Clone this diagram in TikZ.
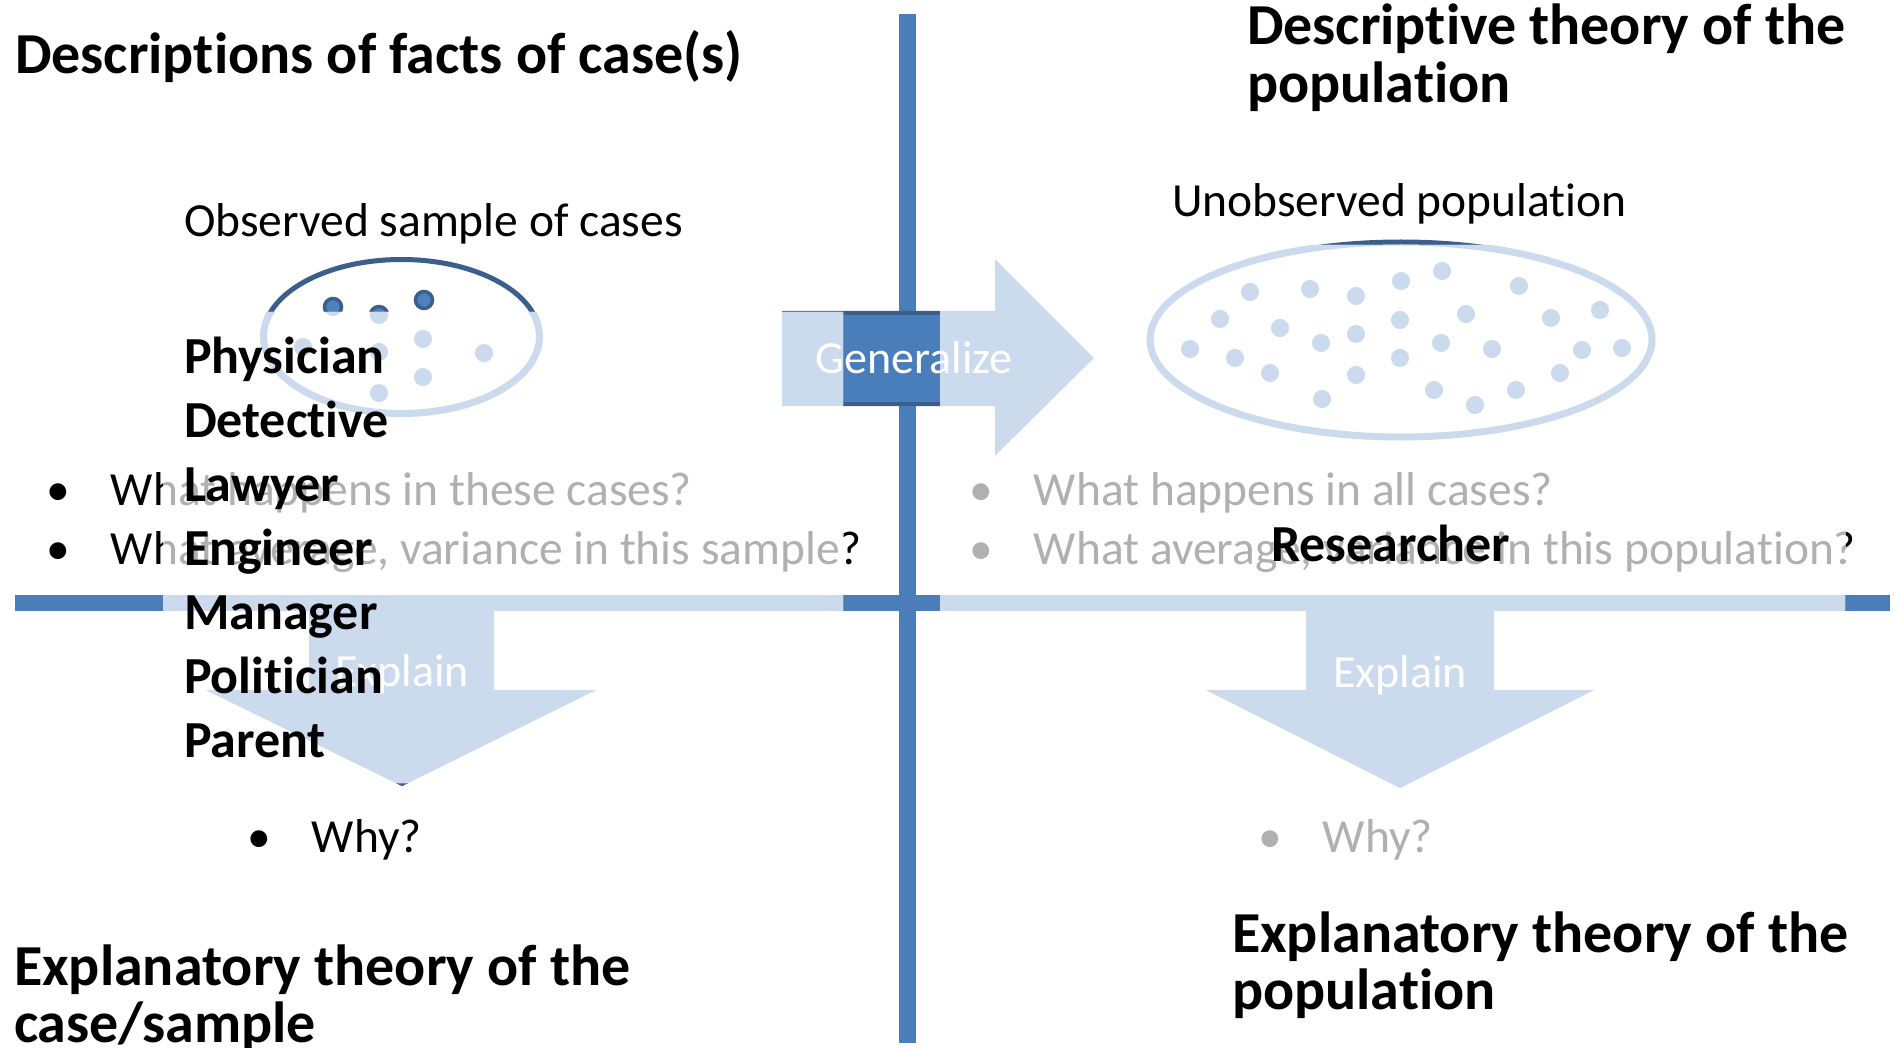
\documentclass[tikz,border=0pt]{standalone}
\usepackage{fontspec}
\setmainfont{Carlito}[Ligatures=NoCommon]
\usetikzlibrary{calc}

\definecolor{barblue}{HTML}{4A7EBB}
\definecolor{rimblue}{HTML}{3A5F8D}
\definecolor{dotblue}{HTML}{4F81BD}
\definecolor{paleblue}{HTML}{CCDAEE}
\definecolor{paletext}{HTML}{B0B0B0}

% Everything that belongs to the two-by-two scheme; drawn once in full colour
% and once more in pale tones inside the two washed-out panels.
\newcommand\schemelayer{%
  % axes
  \fill[fillc] (14.5,595) rectangle (1890,611);
  \fill[fillc] (899,14.5) rectangle (916,1043);
  % observed sample
  \node[bodytext] (samplelbl) at (184,237) {Observed sample of cases};
  \draw[rimc, line width=\rimw] (401.5,336.5) ellipse [x radius=138pt, y radius=77pt];
  \foreach \x/\y in {333/307,379/315,424/300,303/347,379/352,423/339,484/353,423/377,379/393}
    \draw[casedot] (\x,\y) circle [radius=8.5pt];
  % unobserved population
  \node[bodytext] (poplbl) at (1172,217) {Unobserved population};
  \draw[rimc, line width=\rimw] (1401,339.5) ellipse [x radius=251pt, y radius=97.5pt];
  \foreach \x/\y in {1250/292,1310/289,1356/296,1401/281,1442/271,1519/286,
                     1220/319,1280/328,1356/334,1400/320,1466/314,1551/318,1600/310,
                     1190/349,1235/358,1321/343,1441/343,1492/349,1582/350,1622/348,
                     1270/373,1356/375,1400/358,1560/373,
                     1322/399,1434/390,1475/405,1516/390}
    \draw[casedot] (\x,\y) circle [radius=8.5pt];
  % generalize arrow
  \draw[rimc, line width=4pt, fill=fillc, line join=miter]
    (784,313) -- (997,313) -- (997,264) -- (1091,358) -- (997,451) -- (997,404) -- (784,404) -- cycle;
  \node[whitetext] (gen) at (914,373) {Generalize};
  % explain arrows
  \draw[rimc, line width=2pt, fill=fillc]
    (310,603) -- (493,603) -- (493,691) -- (592,691) -- (402,785) -- (210,691) -- (310,691) -- cycle;
  \node[whitetext] (explL) at (402,686) {Explain};
  \draw[rimc, line width=2pt, fill=fillc]
    (1307,603) -- (1493,603) -- (1493,691) -- (1590,691) -- (1400,787) -- (1210,691) -- (1307,691) -- cycle;
  \node[whitetext] (explR) at (1400,687) {Explain};
  % questions
  \node[bodytext] (qsample) at (46,505) {\begin{tabular}[t]{@{}p{65pt}@{}l@{}}
      • & What happens in these cases?\\
      • & What average, variance in this sample?\end{tabular}};
  \node[bodytext] (qpop) at (969,505) {\begin{tabular}[t]{@{}p{65pt}@{}l@{}}
      • & What happens in all cases?\\
      • & What average, variance in this population?\end{tabular}};
  \node[bodytext] (whyL) at (247,852) {\begin{tabular}[t]{@{}p{65pt}@{}l@{}}• & Why?\end{tabular}};
  \node[bodytext] (whyR) at (1258,852) {\begin{tabular}[t]{@{}p{65pt}@{}l@{}}• & Why?\end{tabular}};
}

\begin{document}
\begin{tikzpicture}[x=1pt, y=-1pt,
  every node/.style={inner sep=0pt, outer sep=0pt},
  bodytext/.style={font=\fontsize{47.5}{59}\selectfont, text=txtc, anchor=base west},
  whitetext/.style={font=\fontsize{46}{55}\selectfont, text=white, anchor=base},
  titletext/.style={font=\bfseries\fontsize{58}{55}\selectfont, anchor=base west},
  roletext/.style={font=\bfseries\fontsize{52}{64}\selectfont, anchor=base west},
  casedot/.style={fill=dotc, draw=rimc, line width=\dotw}]
\useasboundingbox (0,0) rectangle (1894,1048);
\fill[white] (0,0) rectangle (1894,1048);

% full-colour scheme
\colorlet{fillc}{barblue}\colorlet{rimc}{rimblue}\colorlet{dotc}{dotblue}\colorlet{txtc}{black}
\def\rimw{5pt}\def\dotw{3.5pt}
\schemelayer

% washed-out panels
\begin{scope}
  \clip (163,312) rectangle (843,783) (940,245) rectangle (1845,880);
  \fill[white] (163,312) rectangle (843,783) (940,245) rectangle (1845,880);
  \colorlet{fillc}{paleblue}\colorlet{rimc}{paleblue}\colorlet{dotc}{paleblue}\colorlet{txtc}{paletext}
  \def\rimw{7pt}\def\dotw{1pt}
  \schemelayer
\end{scope}

% quadrant headings
\node[titletext] (descCase) at (15,74) {Descriptions of facts of case(s)};
\node[titletext] (descPop) at (1247,45) {\begin{tabular}[t]{@{}l@{}}Descriptive theory of the\\population\end{tabular}};
\node[titletext] (explCase) at (14,985) {\begin{tabular}[t]{@{}l@{}}Explanatory theory of the\\case/sample\end{tabular}};
\node[titletext] (explPop) at (1232,952) {\begin{tabular}[t]{@{}l@{}}Explanatory theory of the\\population\end{tabular}};

% roles
\node[roletext] (roles) at (184,373) {\begin{tabular}[t]{@{}l@{}}Physician\\Detective\\Lawyer\\Engineer\\Manager\\Politician\\Parent\end{tabular}};
\node[roletext] (researcher) at (1271,561) {Researcher};
\end{tikzpicture}
\end{document}
